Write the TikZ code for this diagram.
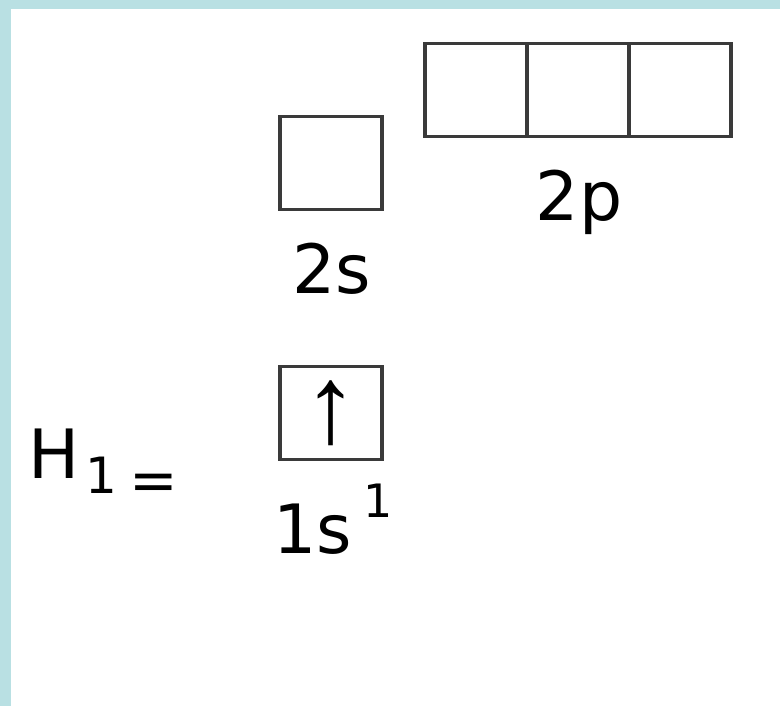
\documentclass[tikz,border=0pt]{standalone}
\usepackage{fontspec}
\setmainfont{DejaVu Sans}
\newfontfamily\arrowfont{Liberation Sans}
\usetikzlibrary{positioning}
\definecolor{framecol}{HTML}{B9E0E3}
\definecolor{boxline}{HTML}{3A3A3A}

\begin{document}
\begin{tikzpicture}[x=0.5pt,y=-0.5pt,
  orb/.style={draw=boxline,line width=1.6pt,minimum width=51pt,minimum height=46.5pt,outer sep=0pt,inner sep=0pt},
  lbl/.style={anchor=base,inner sep=0pt,font=\fontsize{34}{40}\selectfont}]
\useasboundingbox (0,0) rectangle (780,706);
\fill[framecol] (0,0) rectangle (780,706);
\fill[white] (11,9) rectangle (780,706);
\node[orb] (s2) at (331,163) {};
\node[orb] (p1) at (476,90) {};
\node[orb,right=0pt of p1] (p2) {};
\node[orb,right=0pt of p2] (p3) {};
\node[orb] (s1) at (331,413) {\arrowfont\fontsize{55}{55}\selectfont ↑};
\node[lbl] (l2p) at (579,220) {2p};
\node[lbl] (l2s) at (332,293) {2s};
\node[lbl] (l1s) at (333,553) {1s\,\raisebox{18pt}{\fontsize{23}{23}\selectfont 1}};
\node[lbl,anchor=base west] (h1) at (28,478) {H\kern3pt\raisebox{-7.5pt}{\fontsize{25}{25}\selectfont 1}\kern6pt\raisebox{-11pt}{\fontsize{29}{29}\selectfont =}};
\end{tikzpicture}
\end{document}
